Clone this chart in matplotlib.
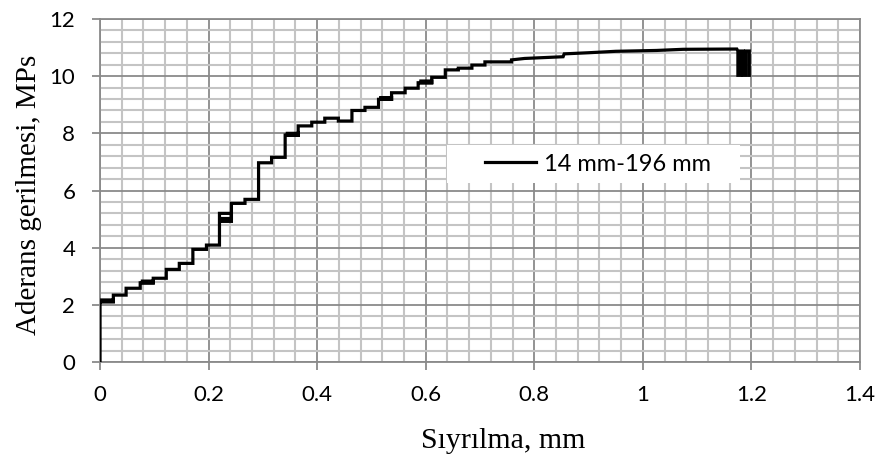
import matplotlib
matplotlib.use('Agg')
import matplotlib.pyplot as plt
from matplotlib.patches import Rectangle
from matplotlib.ticker import MultipleLocator

# slip (mm) and bond stress (MPa) vertices of the recorded curve
slip = [0.000, 0.000, 0.0245, 0.0245, 0.003, 0.003, 0.0245, 0.0245, 0.048, 0.048,
        0.074, 0.074, 0.098, 0.098, 0.078, 0.078, 0.098, 0.098,
        0.122, 0.122, 0.146, 0.146, 0.171, 0.171, 0.196, 0.196, 0.220, 0.220,
        0.242, 0.242, 0.222, 0.222, 0.242, 0.242, 0.267, 0.267, 0.292, 0.292,
        0.316, 0.316, 0.341, 0.341, 0.365, 0.365, 0.345, 0.345, 0.365, 0.365,
        0.390, 0.390, 0.414, 0.414,
        0.439, 0.439, 0.464, 0.464, 0.488, 0.488, 0.513, 0.513, 0.537, 0.537,
        0.517, 0.517, 0.537, 0.537,
        0.562, 0.562, 0.586, 0.586, 0.611, 0.611, 0.591, 0.591, 0.611, 0.611,
        0.636, 0.636, 0.660, 0.660,
        0.685, 0.685, 0.709, 0.709, 0.758, 0.758, 0.782, 0.853, 0.855, 0.900,
        0.950, 1.025, 1.074, 1.173,
        1.175, 1.175, 1.180, 1.180, 1.185, 1.185, 1.190, 1.190, 1.196, 1.196]
stress = [0.00, 2.11, 2.11, 2.17, 2.17, 2.11, 2.11, 2.34, 2.34, 2.58,
          2.58, 2.77, 2.77, 2.83, 2.83, 2.77, 2.77, 2.93,
          2.93, 3.24, 3.24, 3.45, 3.45, 3.94, 3.94, 4.09, 4.09, 5.20,
          5.20, 5.02, 5.02, 4.92, 4.92, 5.55, 5.55, 5.69, 5.69, 6.97,
          6.97, 7.16, 7.16, 7.94, 7.94, 8.00, 8.00, 7.94, 7.94, 8.26,
          8.26, 8.39, 8.39, 8.53,
          8.53, 8.43, 8.43, 8.80, 8.80, 8.91, 8.91, 9.19, 9.19, 9.25,
          9.25, 9.19, 9.19, 9.42,
          9.42, 9.58, 9.58, 9.77, 9.77, 9.83, 9.83, 9.77, 9.77, 9.96,
          9.96, 10.22, 10.22, 10.28,
          10.28, 10.39, 10.39, 10.50, 10.50, 10.57, 10.62, 10.68, 10.78, 10.82,
          10.87, 10.90, 10.94, 10.95,
          10.88, 10.03, 10.03, 10.88, 10.88, 10.03, 10.03, 10.88, 10.88, 10.03]

x_ticks = [0, 0.2, 0.4, 0.6, 0.8, 1, 1.2, 1.4]
x_labels = ['0', '0.2', '0.4', '0.6', '0.8', '1', '1.2', '1.4']
y_ticks = [0, 2, 4, 6, 8, 10, 12]

fig = plt.figure(figsize=(8.83, 4.57), dpi=100)
ax = fig.add_axes([0.1133, 0.2079, 0.8607, 0.7505])

ax.plot(slip, stress, color='black', lw=2.3, solid_joinstyle='miter',
        label='14 mm-196 mm', zorder=4)

ax.set_xlim(0, 1.4)
ax.set_ylim(0, 12)
ax.set_xticks(x_ticks)
ax.set_xticklabels(x_labels)
ax.set_yticks(y_ticks)
ax.xaxis.set_minor_locator(MultipleLocator(0.04))
ax.yaxis.set_minor_locator(MultipleLocator(0.4))

ax.grid(which='minor', color='#c4c4c4', lw=1.5, zorder=1)
ax.grid(which='major', color='#8a8a8a', lw=1.3, zorder=2)
ax.set_axisbelow(True)
for s in ax.spines.values():
    s.set_color('#8a8a8a')
    s.set_linewidth(1.3)
ax.tick_params(which='major', direction='out', length=5.8, width=1.3,
               color='#8a8a8a', labelsize=16)
ax.tick_params(axis='x', pad=11)
ax.tick_params(axis='y', pad=12)
ax.tick_params(which='minor', length=0)
for lab in ax.get_xticklabels() + ax.get_yticklabels():
    lab.set_family('Lato')

# white area behind the legend
ax.add_patch(Rectangle((0.457, 0.522), 0.385, 0.111, transform=ax.transAxes,
                       facecolor='white', edgecolor='none', zorder=3))
leg = ax.legend(loc='center', bbox_to_anchor=(0.6546, 0.577), frameon=False,
                handlelength=2.2, handletextpad=0.3,
                prop={'family': 'Lato', 'size': 17})
leg.set_zorder(5)

ax.set_xlabel('Sıyrılma, mm', family='Liberation Serif', fontsize=21.5)
ax.xaxis.set_label_coords(0.530, -0.2507)
ax.xaxis.label.set_va('baseline')
ax.set_ylabel('Aderans gerilmesi, MPs', family='Liberation Serif', fontsize=21)
ax.yaxis.set_label_coords(-0.0934, 0.487)
ax.yaxis.label.set_va('center')

fig.savefig('out.png', dpi=100)
